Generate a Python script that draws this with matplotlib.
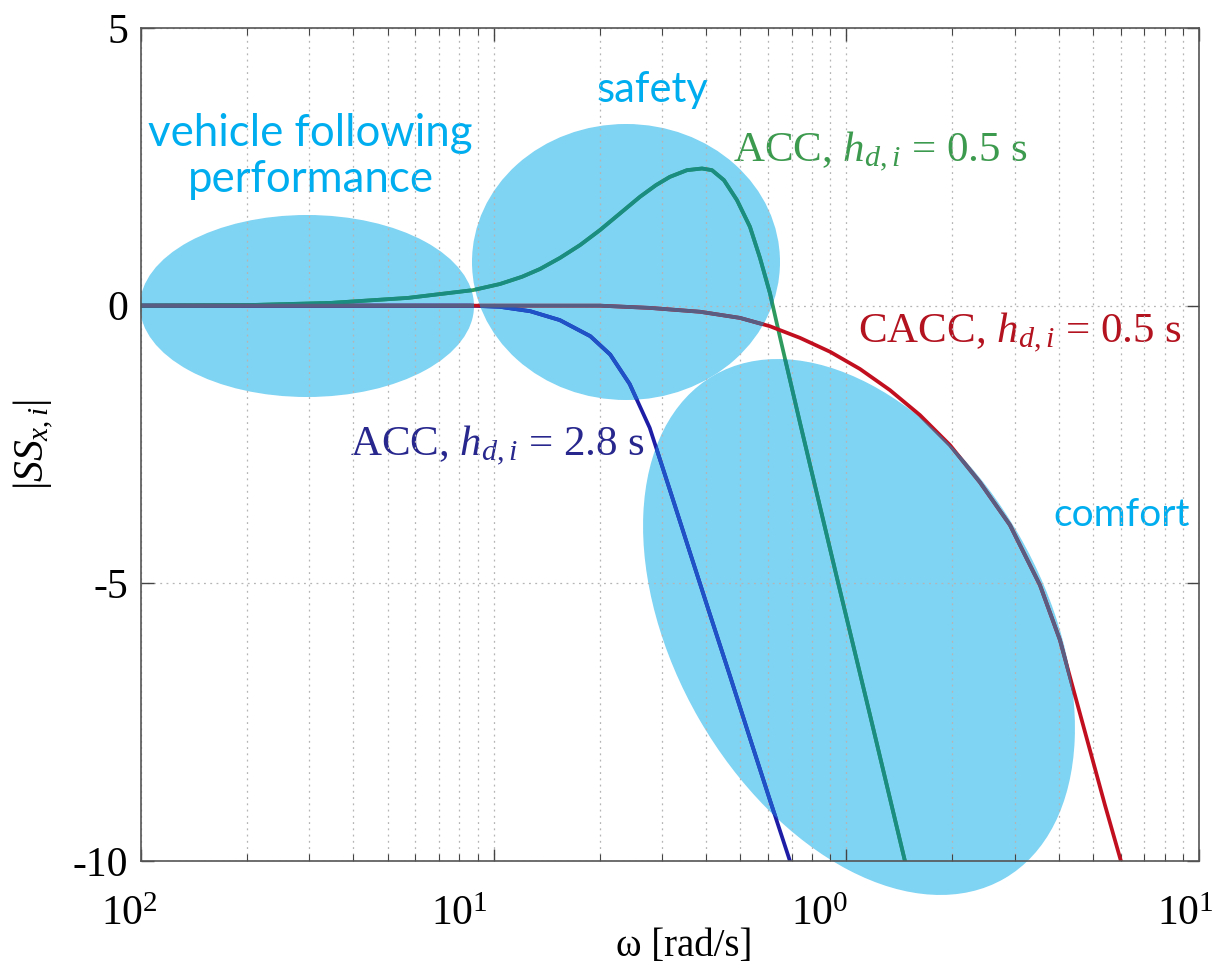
"""Respuesta de string stability |SS_x,i| para ACC y CACC, con zonas marcadas."""

import matplotlib
matplotlib.use("Agg")
import matplotlib.pyplot as plt
from matplotlib.patches import Ellipse
from matplotlib.transforms import ScaledTranslation
from matplotlib.ticker import FixedLocator, FixedFormatter, NullFormatter

W, H = 1220, 971

plt.rcParams.update({
    "font.family": ["Liberation Serif", "DejaVu Serif"],
    "mathtext.fontset": "custom",
    "mathtext.rm": "Liberation Serif",
    "mathtext.it": "Liberation Serif:italic",
    "figure.facecolor": "white",
})

# --- datos (ω en rad/s, |SS| ) ---
acc05_w = [0.01, 0.02, 0.0346, 0.0572, 0.0874, 0.1042, 0.1203, 0.1353, 0.1542,
           0.1757, 0.2001, 0.2251, 0.2599, 0.2885, 0.3161, 0.3533, 0.3897,
           0.4159, 0.4498, 0.4897, 0.533, 0.569, 0.607, 0.648, 0.739, 0.947,
           1.167, 1.466]
acc05_v = [0.0, 0.01, 0.05, 0.14, 0.28, 0.39, 0.52, 0.66, 0.86,
           1.09, 1.36, 1.63, 1.96, 2.17, 2.32, 2.44, 2.47,
           2.44, 2.26, 1.90, 1.42, 0.86, 0.23, -0.56, -2.11, -4.98,
           -7.37, -10.0]

acc28_w = [0.01, 0.05, 0.0857, 0.104, 0.127, 0.154, 0.188, 0.214, 0.243,
           0.277, 0.316, 0.360, 0.410, 0.468, 0.533, 0.607, 0.692]
acc28_v = [0.0, 0.0, 0.0, -0.02, -0.10, -0.26, -0.55, -0.88, -1.41,
           -2.20, -3.32, -4.44, -5.55, -6.67, -7.79, -8.90, -10.0]

cacc05_w = [0.01, 0.1, 0.200, 0.277, 0.385, 0.499, 0.607, 0.739, 0.899,
            1.093, 1.329, 1.617, 1.967, 2.392, 2.910, 3.539, 4.033, 4.447,
            4.905, 5.410, 6.006]
cacc05_v = [0.0, 0.0, 0.0, -0.04, -0.11, -0.22, -0.37, -0.58, -0.83,
            -1.14, -1.52, -1.97, -2.51, -3.18, -3.95, -5.03, -6.02, -7.01,
            -8.00, -8.99, -10.0]

x_ticks = [1e-2, 1e-1, 1e0, 1e1]
x_ticklabels = ["$10^{2}$", "$10^{1}$", "$10^{0}$", "$10^{1}$"]
x_label_shift = [-12, -34, -27, -14]  # px, como en la imagen original
y_ticks = [-10, -5, 0, 5]
y_ticklabels = ["-10", "-5", "0", "5"]

# (color fuera de las elipses, color dentro)
curves = [
    (acc28_w, acc28_v, "#1d1da6", "#1f52c6"),
    (acc05_w, acc05_v, "#2e9a5e", "#1a8c80"),
    (cacc05_w, cacc05_v, "#c20f1f", "#595d82"),
]

# zonas resaltadas, en píxeles de la figura: (cx, cy, ancho, alto, ángulo)
zones = [
    (307, 306, 334, 182, 0),
    (626, 262, 308, 276, 0),
    (859, 627, 581, 369, 60),
]
ZONE_COLOR = "#7fd3f3"
ZONE_TEXT = "#00aeef"

fig = plt.figure(figsize=(W / 100, H / 100), dpi=100)

# capa de fondo en píxeles para elipses y textos
ax0 = fig.add_axes([0, 0, 1, 1], zorder=0)
ax0.set_xlim(0, W)
ax0.set_ylim(H, 0)
ax0.axis("off")
for cx, cy, w, h, ang in zones:
    ax0.add_patch(Ellipse((cx, cy), w, h, angle=ang, color=ZONE_COLOR, lw=0))

ax = fig.add_axes([141 / W, 1 - 861 / H, (1199 - 141) / W, (861 - 28) / H], zorder=1)
ax.set_facecolor("none")
ax.set_xscale("log")

for w, v, c_out, c_in in curves:
    ax.plot(w, v, color=c_out, lw=2.7, solid_joinstyle="round")
# dentro de las elipses las curvas se ven con otro tono
for w, v, c_out, c_in in curves:
    for cx, cy, ew, eh, ang in zones:
        clip = Ellipse((cx, cy), ew, eh, angle=ang, transform=ax0.transData)
        ln, = ax.plot(w, v, color=c_in, lw=2.7, solid_joinstyle="round")
        ln.set_clip_path(clip)

ax.set_xlim(1e-2, 1e1)
ax.set_ylim(-10, 5)
ax.xaxis.set_major_locator(FixedLocator(x_ticks))
ax.xaxis.set_major_formatter(FixedFormatter(x_ticklabels))
ax.xaxis.set_minor_formatter(NullFormatter())
ax.set_yticks(y_ticks)
ax.set_yticklabels(y_ticklabels)

ax.tick_params(which="both", direction="in", top=True, right=True,
               labelsize=30, color="#444444")
ax.tick_params(which="major", length=9, width=1.0)
ax.tick_params(which="minor", length=5, width=0.8)
ax.tick_params(axis="x", pad=25)
ax.tick_params(axis="y", pad=9)
for lab, dx in zip(ax.get_xticklabels(), x_label_shift):
    lab.set_transform(lab.get_transform() + ScaledTranslation(dx / 100, 0, fig.dpi_scale_trans))
for s in ax.spines.values():
    s.set_color("#555555")
    s.set_linewidth(1.2)

dots = (0, (1.5, 3.5))
ax.grid(True, which="both", axis="x", linestyle=dots, color="#b5b5b5", lw=0.9)
ax.grid(True, which="major", axis="y", linestyle=dots, color="#b5b5b5", lw=0.9)
ax.set_axisbelow(True)

ax.set_xlabel("ω [rad/s]", fontsize=28)
ax.xaxis.set_label_coords(0.513, -0.08)
ax.set_ylabel("$|SS_{x,i}|$", fontsize=30, labelpad=12)

# etiquetas de curvas
ax0.text(733, 152, "ACC, $h_{d,i}$ = 0.5 s", color="#3c9a4e", fontsize=31,
         va="center", ha="left", zorder=5)
ax0.text(858, 333, "CACC, $h_{d,i}$ = 0.5 s", color="#b3121f", fontsize=31,
         va="center", ha="left", zorder=5)
ax0.text(350, 446, "ACC, $h_{d,i}$ = 2.8 s", color="#27278e", fontsize=31,
         va="center", ha="left", zorder=5)

# textos de las zonas
zone_font = dict(color=ZONE_TEXT, family=["Lato", "DejaVu Sans"],
                 ha="center", va="center", zorder=5)
ax0.text(310, 133, "vehicle following", fontsize=31.5, **zone_font)
ax0.text(311, 180, "performance", fontsize=31.5, **zone_font)
ax0.text(652, 90, "safety", fontsize=30, **zone_font)
ax0.text(1122, 515, "comfort", fontsize=28, **zone_font)

fig.savefig("out.png", dpi=100)
plt.close(fig)
print("✓ out.png")
